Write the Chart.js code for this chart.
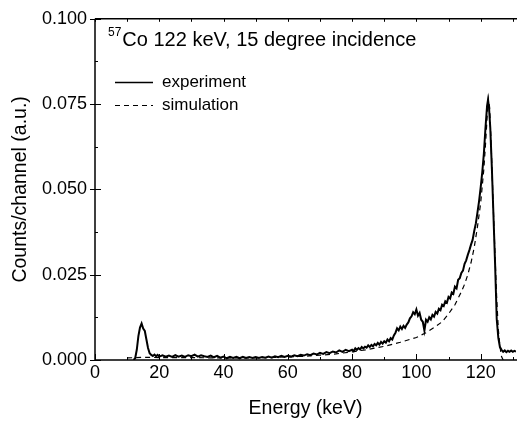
<!DOCTYPE html>
<html>
<head>
<meta charset="utf-8">
<script src="https://cdn.jsdelivr.net/npm/chart.js@4/dist/chart.umd.min.js"></script>
<style>
  body { margin: 0; background: #fff; }
  #wrap { width: 517px; height: 425px; }
</style>
</head>
<body>
<div id="wrap"><canvas id="chart" width="517" height="425"></canvas></div>
<script>
// energies (keV) and counts
const expEnergy = [
  12, 12.5, 13, 13.5, 14, 14.5, 15, 15.5, 16, 16.5, 17, 17.5, 18, 18.5, 19, 19.5,
  20, 21, 22, 23, 24, 25, 26, 27, 28, 29, 30, 31, 32, 33, 34, 35, 36, 37, 38, 39,
  40, 41, 42, 43, 44, 45, 46, 47, 48, 49, 50, 51, 52, 53, 54, 55, 56, 57, 58, 59,
  60, 61, 62, 63, 64, 65, 66, 67, 68, 69, 70, 71, 72, 73, 74, 75, 76, 77, 78, 79,
  80, 80.5, 81, 81.5, 82, 82.5, 83, 83.5, 84, 84.5, 85, 85.5, 86, 86.5, 87, 87.5,
  88, 88.5, 89, 89.5, 90, 90.5, 91, 91.5, 92, 92.5, 93, 93.5, 94, 94.5, 95, 95.5,
  96, 96.5, 97, 97.5, 98, 98.5, 99, 99.5, 100, 100.5, 101, 101.5, 102, 102.5, 103, 103.5,
  104, 104.5, 105, 105.5, 106, 106.5, 107, 107.5, 108, 108.5, 109, 109.5, 110, 110.5,
  111, 111.5, 112, 112.5, 113, 113.5, 114, 114.5, 115, 115.5, 116, 116.5, 117, 117.5,
  118, 118.5, 119, 119.5, 120, 120.5, 121, 121.5, 122, 122.3, 122.6, 123,
  123.5, 124, 124.5, 125, 125.5, 126, 126.5, 127, 127.5, 128, 128.5, 129, 129.5, 130, 130.5, 131
];
const expCounts = [
  0.0000, 0.0005, 0.0030, 0.0070, 0.0095, 0.0107, 0.0092, 0.0085, 0.0060, 0.0035, 0.0020, 0.0015, 0.0012, 0.0016, 0.0011, 0.0015,
  0.0010, 0.0014, 0.0010, 0.0013, 0.0009, 0.0014, 0.0010, 0.0013, 0.0009, 0.0014, 0.0011, 0.0016, 0.0010, 0.0014, 0.0011, 0.0009, 0.0013, 0.0008, 0.0012, 0.0007,
  0.0010, 0.0005, 0.0009, 0.0006, 0.0009, 0.0005, 0.0009, 0.0006, 0.0009, 0.0006, 0.0009, 0.0006, 0.0009, 0.0007, 0.0010, 0.0007, 0.0011, 0.0008, 0.0012, 0.0009,
  0.0012, 0.0010, 0.0014, 0.0011, 0.0015, 0.0013, 0.0017, 0.0014, 0.0019, 0.0016, 0.0021, 0.0018, 0.0023, 0.0020, 0.0025, 0.0022, 0.0028, 0.0024, 0.0030, 0.0026,
  0.0030, 0.0026, 0.0034, 0.0030, 0.0035, 0.0031, 0.0038, 0.0034, 0.0039, 0.0036, 0.0043, 0.0038, 0.0044, 0.0040, 0.0047, 0.0043,
  0.0050, 0.0045, 0.0053, 0.0048, 0.0055, 0.0051, 0.0060, 0.0055, 0.0064, 0.0060, 0.0072, 0.0080, 0.0093, 0.0087, 0.0098, 0.0091,
  0.0100, 0.0094, 0.0104, 0.0110, 0.0122, 0.0128, 0.0140, 0.0134, 0.0148, 0.0130, 0.0138, 0.0118, 0.0112, 0.0086, 0.0118, 0.0112,
  0.0125, 0.0119, 0.0132, 0.0127, 0.0141, 0.0136, 0.0150, 0.0146, 0.0162, 0.0158, 0.0172, 0.0168, 0.0185, 0.0180,
  0.0198, 0.0194, 0.0215, 0.0210, 0.0235, 0.0240, 0.0255, 0.0262, 0.0282, 0.0292, 0.0308, 0.0322, 0.0338, 0.0352,
  0.0378, 0.0400, 0.0432, 0.0465, 0.0505, 0.0550, 0.0605, 0.0680, 0.0745, 0.0763, 0.0740, 0.0680,
  0.0560, 0.0420, 0.0280, 0.0120, 0.0065, 0.0038, 0.0030, 0.0024, 0.0028, 0.0023, 0.0027, 0.0024, 0.0028, 0.0024, 0.0027, 0.0025
];

const simEnergy = [
  10, 15, 20, 30, 40, 50, 60, 65, 70, 75, 80, 85, 90, 95, 100, 103, 106, 108, 110, 112,
  114, 115, 116, 117, 118, 119, 120, 121, 121.5, 122, 122.4, 122.8, 123.2, 123.6, 124,
  124.5, 125, 125.5, 126, 126.5, 127
];
const simCounts = [
  0.0006, 0.0008, 0.0007, 0.0007, 0.0006, 0.0006, 0.0009, 0.0011, 0.0014, 0.0018, 0.0024, 0.0031, 0.0040, 0.0052, 0.0066, 0.0080, 0.0098, 0.0112, 0.0135, 0.0162,
  0.0200, 0.0222, 0.0250, 0.0285, 0.0330, 0.0390, 0.0460, 0.0560, 0.0630, 0.0710, 0.0765, 0.0740, 0.0650, 0.0540, 0.0430,
  0.0300, 0.0180, 0.0090, 0.0040, 0.0010, 0.0000
];

const seriesLabels = ['experiment', 'simulation'];
const xTickStep = 20;
const yTickStep = 0.025;

const FONT = '"Liberation Sans", Arial, sans-serif';

const toPoints = (xs, ys) => xs.map((x, i) => ({ x: x, y: ys[i] }));

// frame, inward ticks, title and legend drawn like the Origin plot
const decorPlugin = {
  id: 'decor',
  afterDraw(chart) {
    const { ctx, chartArea: a, scales } = chart;
    const xs = scales.x, ys = scales.y;
    ctx.save();
    ctx.strokeStyle = '#000';
    ctx.lineWidth = 1.5;
    ctx.beginPath();
    ctx.moveTo(a.left, a.top);
    ctx.lineTo(a.right + 2, a.top);
    ctx.moveTo(a.left, a.top);
    ctx.lineTo(a.left, a.bottom);
    ctx.lineTo(a.right + 2, a.bottom);
    ctx.stroke();

    ctx.lineWidth = 1;
    ctx.beginPath();
    for (let v = 0; v <= xs.max; v += 10) {
      const px = Math.round(xs.getPixelForValue(v)) + 0.5;
      const len = v % xTickStep === 0 ? 6 : 3;
      ctx.moveTo(px, a.bottom);
      ctx.lineTo(px, a.bottom - len);
      ctx.moveTo(px, a.top);
      ctx.lineTo(px, a.top + 3);
    }
    for (let i = 0; i <= 8; i++) {
      const v = i * yTickStep / 2;
      const py = Math.round(ys.getPixelForValue(v)) + 0.5;
      if (i % 2 === 0) {
        ctx.moveTo(a.left - 5, py);
        ctx.lineTo(a.left + 6, py);
      } else {
        ctx.moveTo(a.left, py);
        ctx.lineTo(a.left + 3, py);
      }
    }
    ctx.stroke();

    // title with superscript
    ctx.fillStyle = '#000';
    ctx.textBaseline = 'alphabetic';
    ctx.textAlign = 'left';
    ctx.font = '12px ' + FONT;
    ctx.fillText('57', 108, 36);
    const supW = ctx.measureText('57').width;
    ctx.font = '20px ' + FONT;
    ctx.fillText('Co 122 keV, 15 degree incidence', 108 + supW + 1, 46);

    // legend
    const items = chart.data.datasets;
    const rows = [82, 105];
    ctx.font = '17px ' + FONT;
    items.forEach((ds, i) => {
      ctx.beginPath();
      ctx.lineWidth = i === 0 ? 1.3 : 1.2;
      ctx.setLineDash(ds.borderDash || []);
      ctx.moveTo(115, rows[i] + 0.5);
      ctx.lineTo(153, rows[i] + 0.5);
      ctx.stroke();
      ctx.setLineDash([]);
      ctx.textBaseline = 'middle';
      ctx.fillText(ds.label, 162, rows[i]);
    });
    ctx.restore();
  }
};

new Chart(document.getElementById('chart'), {
  type: 'line',
  data: {
    datasets: [
      {
        label: seriesLabels[0],
        data: toPoints(expEnergy, expCounts),
        borderColor: '#000',
        borderWidth: 2,
        pointRadius: 0,
        tension: 0,
        fill: false
      },
      {
        label: seriesLabels[1],
        data: toPoints(simEnergy, simCounts),
        borderColor: '#000',
        borderWidth: 1.2,
        borderDash: [5, 4],
        pointRadius: 0,
        tension: 0,
        fill: false
      }
    ]
  },
  options: {
    responsive: false,
    animation: false,
    layout: { padding: { top: 13, right: 1, left: 0, bottom: 0 } },
    plugins: {
      legend: { display: false },
      tooltip: { enabled: false },
      title: { display: false }
    },
    scales: {
      x: {
        type: 'linear',
        min: 0,
        max: 131,
        grid: { display: false, drawTicks: false },
        border: { display: false },
        ticks: {
          stepSize: xTickStep,
          includeBounds: false,
          padding: 2,
          color: '#000',
          font: { family: FONT, size: 18 },
          maxRotation: 0
        },
        title: {
          display: true,
          text: 'Energy (keV)',
          color: '#000',
          font: { family: FONT, size: 19.5 },
          padding: { top: 0, bottom: 5 }
        },
        afterFit(scale) { scale.height = 65; }
      },
      y: {
        type: 'linear',
        min: 0,
        max: 0.1,
        grid: { display: false, drawTicks: false },
        border: { display: false },
        ticks: {
          stepSize: yTickStep,
          padding: 8,
          color: '#000',
          font: { family: FONT, size: 18 },
          callback: (v) => v.toFixed(3)
        },
        title: {
          display: true,
          text: 'Counts/channel (a.u.)',
          color: '#000',
          font: { family: FONT, size: 19.5 },
          padding: { top: 9, bottom: 0 }
        },
        afterFit(scale) { scale.width = 95; }
      }
    }
  },
  plugins: [decorPlugin]
});
</script>
</body>
</html>
